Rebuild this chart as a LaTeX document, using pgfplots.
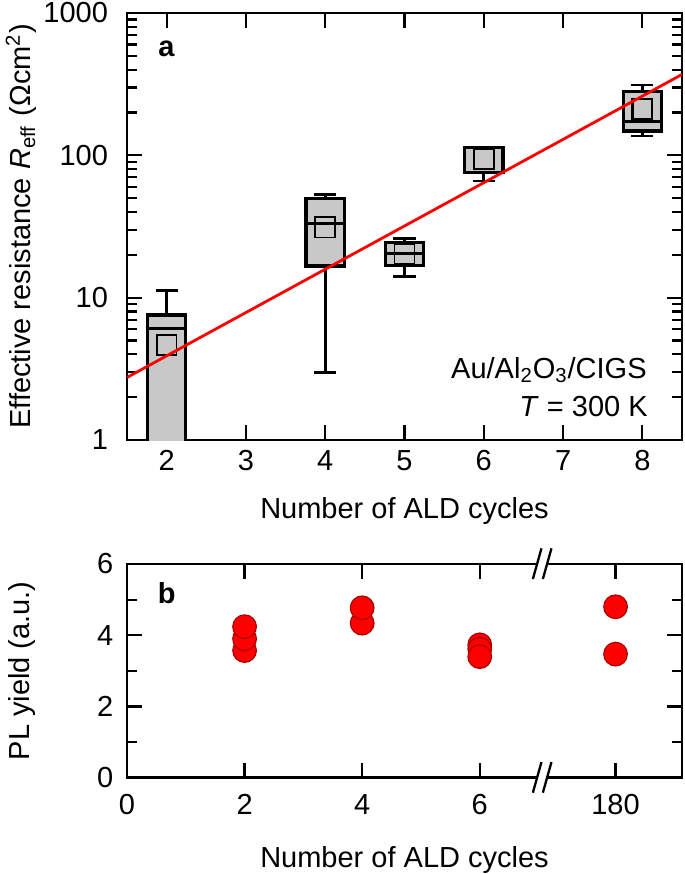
\documentclass[border=0pt]{standalone}
\usepackage{fontspec}
\setmainfont{Liberation Sans}
\usepackage{pgfplots}
\pgfplotsset{compat=1.18}
\definecolor{boxgray}{RGB}{200,200,200}
\definecolor{dotedge}{RGB}{170,0,0}
\newcommand{\fs}{\fontsize{14.5}{17}\selectfont}
\begin{document}
\begin{tikzpicture}
\pgfplotsset{
  every axis/.append style={
    scale only axis,
    tick align=inside,
    axis line style={line width=1.4pt},
    every tick/.append style={black, line width=1.1pt},
    major tick length=7.5pt,
    minor tick length=5pt,
    tick label style={font=\fs},
    label style={font=\fs},
    /pgf/number format/assume math mode=true,
  }
}
% ---------------- panel a ----------------
\begin{axis}[
  at={(0,0)}, anchor=north west,
  width=277.5pt, height=213.5pt,
  xmin=1.5, xmax=8.5, ymode=log, ymin=1, ymax=1000,
  xtick={2,3,4,5,6,7,8}, xticklabels={2,3,4,5,6,7,8},
  ytick={1,10,100,1000}, yticklabels={1,10,100,1000},
  xticklabel style={yshift=-1.65pt},
  yticklabel style={xshift=-6pt},
  xlabel={Number of ALD cycles},
  ylabel={Effective resistance \textit{R}\textsubscript{eff}\,\,(Ωcm\textsuperscript{2})},
  xlabel style={at={(axis description cs:0.5,-0.166)}, anchor=center},
  ylabel style={at={(axis description cs:-0.191,0.5)}, anchor=center},
]
% x = 2
\addplot[line width=1.3pt] coordinates {(2,7.56) (2,11.2)};
\addplot[line width=1.3pt] coordinates {(1.86,11.2) (2.14,11.2)};
\addplot[fill=boxgray, draw=black, line width=1.7pt] coordinates {(1.76,0.5) (2.24,0.5) (2.24,7.56) (1.76,7.56)} -- cycle;
\addplot[line width=1.5pt] coordinates {(1.76,6.09) (2.24,6.09)};
\addplot[draw=black, line width=0.85pt] coordinates {(1.875,3.97) (2.125,3.97) (2.125,5.49) (1.875,5.49)} -- cycle;
% x = 4
\addplot[line width=1.3pt] coordinates {(4,49.9) (4,53.3)};
\addplot[line width=1.3pt] coordinates {(3.86,53.3) (4.14,53.3)};
\addplot[line width=1.3pt] coordinates {(4,16.7) (4,2.97)};
\addplot[line width=1.3pt] coordinates {(3.86,2.97) (4.14,2.97)};
\addplot[fill=boxgray, draw=black, line width=1.7pt] coordinates {(3.76,16.7) (4.24,16.7) (4.24,49.9) (3.76,49.9)} -- cycle;
\addplot[line width=1.5pt] coordinates {(3.76,33) (4.24,33)};
\addplot[draw=black, line width=0.85pt] coordinates {(3.875,26.5) (4.125,26.5) (4.125,36.7) (3.875,36.7)} -- cycle;
% x = 5
\addplot[line width=1.3pt] coordinates {(5,24.35) (5,26.1)};
\addplot[line width=1.3pt] coordinates {(4.86,26.1) (5.14,26.1)};
\addplot[line width=1.3pt] coordinates {(5,16.9) (5,14.06)};
\addplot[line width=1.3pt] coordinates {(4.86,14.06) (5.14,14.06)};
\addplot[fill=boxgray, draw=black, line width=1.7pt] coordinates {(4.76,16.9) (5.24,16.9) (5.24,24.35) (4.76,24.35)} -- cycle;
\addplot[line width=1.5pt] coordinates {(4.76,20.5) (5.24,20.5)};
\addplot[draw=black, line width=0.85pt] coordinates {(4.875,17.26) (5.125,17.26) (5.125,23.87) (4.875,23.87)} -- cycle;
% x = 6
\addplot[line width=1.3pt] coordinates {(6,114) (6,117)};
\addplot[line width=1.3pt] coordinates {(6,76.1) (6,66.1)};
\addplot[line width=1.3pt] coordinates {(5.86,66.1) (6.14,66.1)};
\addplot[fill=boxgray, draw=black, line width=1.7pt] coordinates {(5.76,76.1) (6.24,76.1) (6.24,114) (5.76,114)} -- cycle;
\addplot[draw=black, line width=0.85pt] coordinates {(5.875,80.2) (6.125,80.2) (6.125,111) (5.875,111)} -- cycle;
% x = 8
\addplot[line width=1.3pt] coordinates {(8,280.5) (8,312.5)};
\addplot[line width=1.3pt] coordinates {(7.86,312.5) (8.14,312.5)};
\addplot[line width=1.3pt] coordinates {(8,148.4) (8,136.9)};
\addplot[line width=1.3pt] coordinates {(7.86,136.9) (8.14,136.9)};
\addplot[fill=boxgray, draw=black, line width=1.7pt] coordinates {(7.76,148.4) (8.24,148.4) (8.24,280.5) (7.76,280.5)} -- cycle;
\addplot[line width=1.5pt] coordinates {(7.76,172.6) (8.24,172.6)};
\addplot[draw=black, line width=1.1pt] coordinates {(7.875,179.2) (8.125,179.2) (8.125,247.9) (7.875,247.9)} -- cycle;
% fit
\addplot[red, line width=1.4pt] coordinates {(1.5,2.75) (8.5,370)};
\node[anchor=base west, inner sep=0pt, font=\fs\bfseries] at (rel axis cs:0.056,0.897) {a};
\node[anchor=base east, inner sep=0pt, font=\fs] at (rel axis cs:0.937,0.145) {Au/Al\textsubscript{2}O\textsubscript{3}/CIGS};
\node[anchor=base east, inner sep=0pt, font=\fs] at (rel axis cs:0.939,0.054) {\textit{T} = 300 K};
\end{axis}
% ---------------- panel b ----------------
\begin{axis}[
  at={(0,-275.5pt)}, anchor=north west,
  width=277.5pt, height=106.85pt,
  xmin=0, xmax=9.44, ymin=0, ymax=6,
  xtick={0,2,4,6,8.31}, xticklabels={0,2,4,6,180},
  ytick={0,2,4,6}, yticklabels={0,2,4,6},
  minor ytick={1,3,5},
  xticklabel style={yshift=-4.65pt},
  yticklabel style={xshift=-3.4pt},
  clip=false,
  xlabel={Number of ALD cycles},
  ylabel={PL yield (a.u.)},
  xlabel style={at={(axis description cs:0.5,-0.383)}, anchor=center},
  ylabel style={at={(axis description cs:-0.19,0.5)}, anchor=center},
]
\addplot[only marks, mark=*, mark size=5.9pt, mark options={fill=red, draw=dotedge, line width=0.6pt}]
  coordinates {(2,3.57) (2,3.90) (2,4.24) (4,4.34) (4,4.77) (6,3.73) (6,3.61) (6,3.40) (8.31,3.47) (8.31,4.80)};
\fill[white] ([xshift=-4.9pt,yshift=-7.5pt]axis cs:7.07,0) -- ([xshift=0.1pt,yshift=-7.5pt]axis cs:7.07,0) -- ([xshift=4.4pt,yshift=7.8pt]axis cs:7.07,0) -- ([xshift=-0.6pt,yshift=7.8pt]axis cs:7.07,0) -- cycle;
\fill[white] ([xshift=-4.9pt,yshift=-7.5pt]axis cs:7.07,6) -- ([xshift=0.1pt,yshift=-7.5pt]axis cs:7.07,6) -- ([xshift=4.4pt,yshift=7.8pt]axis cs:7.07,6) -- ([xshift=-0.6pt,yshift=7.8pt]axis cs:7.07,6) -- cycle;
\draw[line width=1.15pt] ([xshift=-4.9pt,yshift=-7.5pt]axis cs:7.07,0) -- ([xshift=-0.6pt,yshift=7.8pt]axis cs:7.07,0);
\draw[line width=1.15pt] ([xshift=0.1pt,yshift=-7.5pt]axis cs:7.07,0) -- ([xshift=4.4pt,yshift=7.8pt]axis cs:7.07,0);
\draw[line width=1.15pt] ([xshift=-4.9pt,yshift=-7.5pt]axis cs:7.07,6) -- ([xshift=-0.6pt,yshift=7.8pt]axis cs:7.07,6);
\draw[line width=1.15pt] ([xshift=0.1pt,yshift=-7.5pt]axis cs:7.07,6) -- ([xshift=4.4pt,yshift=7.8pt]axis cs:7.07,6);
\node[anchor=base west, inner sep=0pt, font=\fs\bfseries] at (rel axis cs:0.055,0.813) {b};
\end{axis}
\pgfresetboundingbox
\path[use as bounding box] (-63.5pt,6.5pt) rectangle (279pt,-430.5pt);
\end{tikzpicture}
\end{document}
